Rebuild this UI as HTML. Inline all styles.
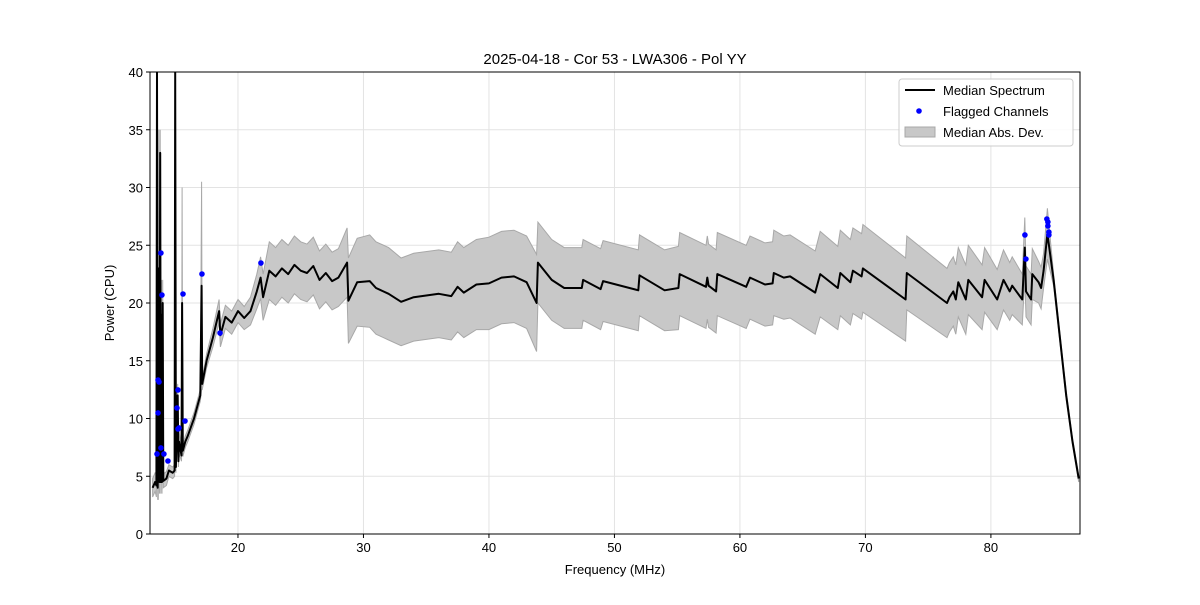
<!DOCTYPE html>
<html><head><meta charset="utf-8"><style>
body{margin:0;background:#fff;}
svg text{font-family:"Liberation Sans","DejaVu Sans",sans-serif;fill:#000;}
</style></head><body>
<svg id="chart" width="1200" height="600" xmlns="http://www.w3.org/2000/svg">
<defs><clipPath id="clip"><rect x="150" y="72" width="930" height="462"/></clipPath></defs>
<rect width="1200" height="600" fill="#fff"/>
<text x="615" y="64" font-size="15" text-anchor="middle">2025-04-18 - Cor 53 - LWA306 - Pol YY</text>
<g id="grid"></g>
<g clip-path="url(#clip)">
<g id="band"></g>
<g id="line"></g>
<g id="pts"></g>
</g>
<rect x="150" y="72" width="930" height="462" fill="none" stroke="#000" stroke-width="1"/>
<g id="xt"></g>
<g id="yt"></g>
<text x="615" y="574" font-size="13" text-anchor="middle">Frequency (MHz)</text>
<text transform="translate(114,303) rotate(-90)" font-size="13" text-anchor="middle">Power (CPU)</text>
<g id="legend">
<rect x="899" y="79" width="174" height="67" rx="3" fill="#fff" fill-opacity="0.85" stroke="#ccc"/>
<line x1="905" y1="90" x2="935" y2="90" stroke="#000" stroke-width="2"/>
<text x="943" y="95" font-size="13">Median Spectrum</text>
<circle cx="919" cy="111" r="2.8" fill="#0000ff"/>
<text x="943" y="116" font-size="13">Flagged Channels</text>
<rect x="905" y="127" width="30" height="10" fill="#c8c8c8" stroke="#a8a8a8"/>
<text x="943" y="137" font-size="13">Median Abs. Dev.</text>
</g>
</svg>
<script>
const freqs=[13.2,13.4,13.5,13.55,13.6,13.65,13.7,13.75,13.8,13.85,13.9,13.95,14.0,14.05,14.3,14.5,14.8,14.95,15.0,15.05,15.2,15.25,15.3,15.5,15.55,15.6,15.8,16,16.5,17,17.1,17.15,17.5,18,18.5,18.6,19,19.5,20,20.5,21,21.5,21.8,22,22.5,23,23.5,24,24.5,25,25.5,26,26.5,27,27.5,28,28.7,28.8,29.5,30.5,31,32,33,34,36,37,37.5,38,39,40,41,42,43,43.8,43.9,45,46,47.4,47.5,48.9,49.1,51.9,52,54,55.1,55.2,57.3,57.4,57.5,58.1,58.2,60.5,60.8,62,62.6,62.7,63.5,64,66,66.4,67.8,68,68.8,69,69.7,69.8,73.2,73.3,76.5,76.7,77.0,77.2,77.4,78.0,78.2,79.3,79.5,80.5,81.0,81.5,81.7,82.5,82.7,82.8,83.2,83.3,83.8,84.0,84.2,84.5,85,85.5,86,86.5,87];
const median=[4.0,4.5,4.2,40,4,13,23,4.5,33,4.5,19,4.5,20,4.6,4.8,5.5,5.3,5.5,40,5.8,12,6.3,8,6.8,20,7.2,8.0,8.5,10,12,21.5,13,15,17,19.3,17.2,18.8,18.3,19.3,18.7,19.3,21,22.2,20.5,22.8,22.3,23,22.5,23.3,22.8,22.6,23.2,22,22.6,21.9,22.2,23.5,20.2,21.8,21.9,21.3,20.8,20.1,20.5,20.8,20.6,21.4,20.9,21.6,21.7,22.2,22.3,21.8,20.0,23.5,22.0,21.3,21.3,22.0,21.2,21.9,21.1,22.4,21.1,21.3,22.5,21.4,22.2,21.5,21.0,22.5,21.4,22.2,21.6,21.7,22.6,22.2,22.3,20.9,22.5,21.3,22.6,21.8,22.8,22.3,23.0,20.3,22.6,20.0,20.5,21.0,20.3,21.8,20.3,22.0,20.5,22.0,20.3,22.0,21.0,21.5,20.3,24.8,21.0,20.3,22.5,21.8,21.3,22.8,26.0,22,17,12,8.0,4.8];
const mad=[0.8,0.8,1,3,1,10,12,1,2,1,3,1,2,0.6,0.6,0.5,0.5,0.5,1,0.5,1,0.5,1,0.5,10,0.5,0.5,0.5,0.5,0.5,9,0.5,0.6,0.8,1,1,1,1,1,1,1.2,1.5,1.8,2,2.5,2.5,2.5,2.5,2.5,2.5,2.5,2.5,2.5,2.5,2.5,2.5,3,3.7,3.8,4,4,4,3.8,3.8,3.8,3.8,3.9,3.9,3.9,4,4,4,4,4.2,3.5,3.5,3.5,3.5,3.5,3.5,3.5,3.5,3.5,3.5,3.6,3.6,3.6,3.6,3.6,3.6,3.6,3.6,3.6,3.6,3.6,3.7,3.6,3.6,3.6,3.7,3.6,3.7,3.7,3.7,3.7,3.8,3.6,3.2,3.0,3.0,3.0,3.0,3.0,3.0,3.0,2.8,2.8,2.6,2.6,2.5,2.5,2.2,2.6,2.2,2.2,2.2,1.8,1.8,1.5,2.2,0.5,0.4,0.4,0.3,0.3];
const flagFreq=[13.55,13.63,13.63,13.71,13.86,13.94,13.86,14.1,14.42,15.22,15.14,15.22,15.3,15.62,15.78,17.13,18.57,21.83,82.71,82.79,84.46,84.54,84.54,84.62,84.62];
const flagPow=[6.93,10.48,13.33,13.16,24.33,20.69,7.45,6.93,6.32,12.47,10.91,9.09,9.18,20.78,9.78,22.51,17.4,23.46,25.89,23.81,27.27,27.01,26.67,26.14,25.89];
const xTicks=[20,30,40,50,60,70,80];
const yTicks=[0,5,10,15,20,25,30,35,40];
const X0=150,X1=1080,Y0=534,Y1=72,FMIN=12.99,FMAX=87.1,PMIN=0,PMAX=40;
const sx=f=>X0+(f-FMIN)/(FMAX-FMIN)*(X1-X0);
const sy=v=>Y0-(Math.min(v,42)-PMIN)/(PMAX-PMIN)*(Y0-Y1);
const NS='http://www.w3.org/2000/svg';
function mk(tag,parent,attrs){const e=document.createElementNS(NS,tag);for(const k in attrs)e.setAttribute(k,attrs[k]);document.getElementById(parent).appendChild(e);return e;}
xTicks.forEach(t=>{
  const g=mk('line','grid',{x1:sx(t),x2:sx(t),y1:Y1,y2:Y0,stroke:'#e3e3e3','stroke-width':1});
  
  
  const tk=mk('line','xt',{x1:sx(t),x2:sx(t),y1:Y0,y2:Y0+4,stroke:'#000'});
  
  
  const tx=mk('text','xt',{x:sx(t),y:Y0+18,'font-size':13,'text-anchor':'middle'});
  tx.textContent=t;
  
  
});
yTicks.forEach(t=>{
  const g=mk('line','grid',{x1:X0,x2:X1,y1:sy(t),y2:sy(t),stroke:'#e3e3e3','stroke-width':1});
  
  
  const tk=mk('line','yt',{x1:X0-4,x2:X0,y1:sy(t),y2:sy(t),stroke:'#000'});
  
  
  const tx=mk('text','yt',{x:X0-7,y:sy(t)+5,'font-size':13,'text-anchor':'end'});
  tx.textContent=t;
  
  
});
let up=freqs.map((f,i)=>sx(f).toFixed(1)+','+sy(median[i]+mad[i]).toFixed(1));
let lo=freqs.map((f,i)=>sx(f).toFixed(1)+','+sy(Math.max(0,median[i]-mad[i])).toFixed(1)).reverse();
const band=mk('polygon','band',{points:up.concat(lo).join(' '),fill:'#c8c8c8',stroke:'#a8a8a8','stroke-width':1});


const ln=mk('polyline','line',{points:freqs.map((f,i)=>sx(f).toFixed(1)+','+sy(median[i]).toFixed(1)).join(' '),fill:'none',stroke:'#000','stroke-width':2,'stroke-linejoin':'round'});


flagFreq.forEach((f,i)=>{
  const c=mk('circle','pts',{cx:sx(f),cy:sy(flagPow[i]),r:2.8,fill:'#0000ff'});
  
  
});
document.getElementById('chart').appendChild(document.getElementById('legend'));
</script>
</body></html>
